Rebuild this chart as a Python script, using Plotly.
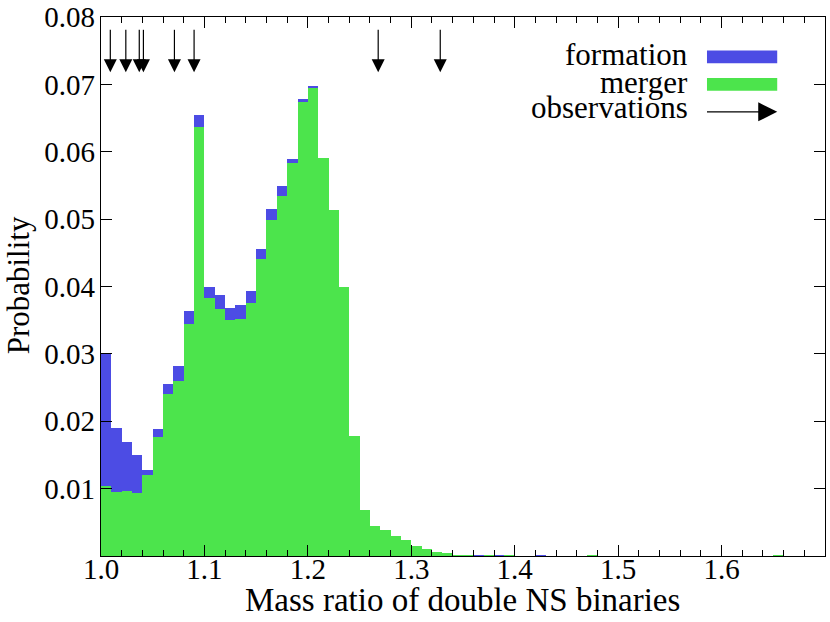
import plotly.graph_objects as go

# ---- data ----
bin_left = [round(1.0 + 0.01 * i, 2) for i in range(70)]

formation = [0.0301, 0.0190, 0.0169, 0.0150, 0.0128, 0.0188, 0.0255, 0.0282, 0.0363, 0.0654,
             0.0399, 0.0388, 0.0368, 0.0373, 0.0394, 0.0455, 0.0515, 0.0549, 0.0589, 0.0678,
             0.0698, 0.0591, 0.0514, 0.0400, 0.0178, 0.0068, 0.0045, 0.0038, 0.0030, 0.0024,
             0.0015, 0.0010, 0.0006, 0.0004, 0.0001, 0.0001, 0.00005, 0.0001, 0.00005, 0.0001,
             0.0, 0.0, 0.00005, 0.0, 0.0, 0.0, 0.0, 0.00005, 0.0, 0.0,
             0.0, 0.0, 0.0, 0.0, 0.0, 0.0, 0.0, 0.0, 0.0, 0.0,
             0.0, 0.0, 0.0, 0.0, 0.0, 0.00005, 0.0, 0.0, 0.0, 0.0]

merger = [0.0104, 0.0095, 0.0096, 0.0094, 0.0120, 0.0177, 0.0240, 0.0260, 0.0345, 0.0637,
          0.0383, 0.0367, 0.0351, 0.0352, 0.0376, 0.0441, 0.0499, 0.0535, 0.0583, 0.0674,
          0.0695, 0.0590, 0.0513, 0.0400, 0.0178, 0.0068, 0.0045, 0.0038, 0.0030, 0.0024,
          0.0015, 0.0010, 0.0006, 0.0004, 0.0001, 0.00005, 0.0, 0.00005, 0.0, 0.00005,
          0.0, 0.0, 0.0, 0.0, 0.0, 0.0, 0.0, 0.00005, 0.0, 0.0,
          0.0, 0.0, 0.0, 0.0, 0.0, 0.0, 0.0, 0.0, 0.0, 0.0,
          0.0, 0.0, 0.0, 0.0, 0.0, 0.00005, 0.0, 0.0, 0.0, 0.0]

observations = [1.009, 1.024, 1.037, 1.041, 1.071, 1.090, 1.268, 1.328]

x_tick_vals = [1.0, 1.1, 1.2, 1.3, 1.4, 1.5, 1.6]
x_tick_text = ["1.0", "1.1", "1.2", "1.3", "1.4", "1.5", "1.6"]
y_tick_vals = [0.01, 0.02, 0.03, 0.04, 0.05, 0.06, 0.07, 0.08]
y_tick_text = ["0.01", "0.02", "0.03", "0.04", "0.05", "0.06", "0.07", "0.08"]

BLUE = "#4c4ce4"
GREEN = "#4ce44c"
FONT = "Liberation Serif"
FS_TICK = 29
FS_TEXT = 31
FS_TITLE = 33
X_RANGE = [1.0, 1.7]
Y_RANGE = [0.0, 0.08]
ARROW_TOP, ARROW_TIP = 0.0781, 0.0718

fig = go.Figure()
fig.add_trace(go.Bar(x=bin_left, y=formation, width=0.01, offset=0, marker=dict(color=BLUE, line=dict(width=0)),
                     name="formation", showlegend=False, hoverinfo="skip"))
fig.add_trace(go.Bar(x=bin_left, y=merger, width=0.01, offset=0, marker=dict(color=GREEN, line=dict(width=0)),
                     name="merger", showlegend=False, hoverinfo="skip"))

# observation arrows: shafts + heads
shaft_x, shaft_y = [], []
for v in observations:
    shaft_x += [v, v, None]
    shaft_y += [ARROW_TOP, ARROW_TIP + 0.0012, None]
fig.add_trace(go.Scatter(x=shaft_x, y=shaft_y, mode="lines", line=dict(color="black", width=1.2),
                         showlegend=False, hoverinfo="skip"))
fig.add_trace(go.Scatter(x=observations, y=[ARROW_TIP] * len(observations), mode="markers",
                         marker=dict(symbol="arrow-down", size=13, color="black", line=dict(width=0)),
                         showlegend=False, hoverinfo="skip"))

# legend (manual, text left of symbol), positions as fractions of the plot area
leg_x0, leg_x1 = 0.837, 0.934
text_x = 0.813
rows = [("formation", 0.926, BLUE), ("merger", 0.875, GREEN)]
for label, yc, col in rows:
    fig.add_shape(type="rect", xref="x domain", yref="y domain", x0=leg_x0, x1=leg_x1, y0=yc - 0.012, y1=yc + 0.012,
                  fillcolor=col, line=dict(width=0))
    fig.add_annotation(x=text_x, y=yc + 0.004, xref="x domain", yref="y domain", text=label, showarrow=False,
                       xanchor="right", yanchor="middle", font=dict(family=FONT, size=FS_TEXT, color="black"))
obs_y = 0.824
fig.add_annotation(x=text_x, y=obs_y + 0.008, xref="x domain", yref="y domain", text="observations", showarrow=False,
                   xanchor="right", yanchor="middle", font=dict(family=FONT, size=FS_TEXT, color="black"))

def dom_x(f):
    return X_RANGE[0] + (X_RANGE[1] - X_RANGE[0]) * f

def dom_y(f):
    return Y_RANGE[0] + (Y_RANGE[1] - Y_RANGE[0]) * f

fig.add_trace(go.Scatter(x=[dom_x(leg_x0), dom_x(leg_x1) - 0.01], y=[dom_y(obs_y)] * 2, mode="lines",
                         line=dict(color="black", width=1.2), showlegend=False, hoverinfo="skip", cliponaxis=False))
fig.add_trace(go.Scatter(x=[dom_x(leg_x1)], y=[dom_y(obs_y)], mode="markers",
                         marker=dict(symbol="arrow-right", size=19, color="black", line=dict(width=0)),
                         showlegend=False, hoverinfo="skip", cliponaxis=False))

# axis titles
fig.add_annotation(x=-0.114, y=0.503, xref="paper", yref="paper", text="Probability", showarrow=False,
                   textangle=-90, xanchor="center", yanchor="middle", font=dict(family=FONT, size=FS_TEXT, color="black"))
fig.add_annotation(x=0.499, y=-0.082, xref="paper", yref="paper", text="Mass ratio of double NS binaries",
                   showarrow=False, xanchor="center", yanchor="middle", font=dict(family=FONT, size=FS_TITLE, color="black"))

fig.update_layout(
    width=830, height=622,
    margin=dict(l=101, r=5, t=17, b=66, autoexpand=False),
    paper_bgcolor="white", plot_bgcolor="white",
    barmode="overlay", bargap=0,
    font=dict(family=FONT, size=FS_TICK, color="black"),
    showlegend=False,
    xaxis=dict(range=X_RANGE, tickvals=x_tick_vals, ticktext=x_tick_text, automargin=False,
               ticks="inside", ticklen=11, tickwidth=1, tickcolor="black",
               showline=True, linecolor="black", linewidth=1.2, mirror="ticks",
               showgrid=False, zeroline=False, ticklabelstandoff=-13,
               minor=dict(dtick=0.02, tick0=1.0, ticks="inside", ticklen=6, tickcolor="black", showgrid=False),
               tickfont=dict(family=FONT, size=FS_TICK)),
    yaxis=dict(range=Y_RANGE, tickvals=y_tick_vals, ticktext=y_tick_text, automargin=False,
               ticks="inside", ticklen=11, tickwidth=1, tickcolor="black",
               showline=True, linecolor="black", linewidth=1.2, mirror="ticks",
               showgrid=False, zeroline=False, ticklabelstandoff=-1,
               tickfont=dict(family=FONT, size=FS_TICK)),
)

fig.write_html("out.html", config={"displayModeBar": False},
               post_script="document.body.style.margin='0';document.body.style.overflow='hidden';")
